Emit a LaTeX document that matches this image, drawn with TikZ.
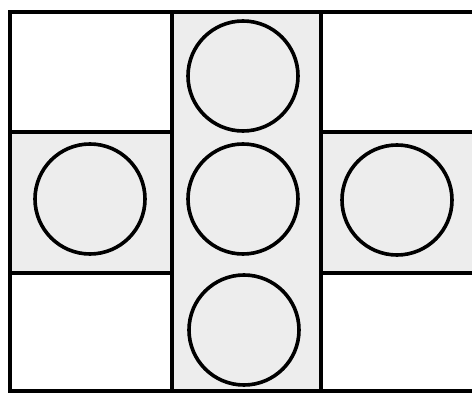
\documentclass[tikz,border=0pt]{standalone}
\usepackage{tikz}
\usetikzlibrary{positioning}

\tikzset{
  slot/.style={circle, draw, line width=3.6pt, minimum size=110pt, inner sep=0pt},
  wall/.style={line width=4.2pt},
}

\begin{document}
\begin{tikzpicture}[x=1pt, y=-1pt]
    \useasboundingbox (0,0) rectangle (472,393);

    % Shaded cross (middle column and middle row)
    \fill[black!7] (172,12) rectangle (321,391);
    \fill[black!7] (10,132) rectangle (472,273);

    % Outer frame
    \draw[wall] (472,12) -- (10,12) -- (10,391) -- (472,391);

    % Column and row lines
    \foreach \x in {172,321} \draw[wall] (\x,12) -- (\x,391);
    \foreach \y in {132,273} {
        \draw[wall] (10,\y) -- (172,\y);
        \draw[wall] (321,\y) -- (472,\y);
    }

    % Circles
    \node[slot] (top)    at (243,76)  {};
    \node[slot] (centre) at (243,199) {};
    \node[slot] (bottom) at (244,330) {};
    \node[slot] (left)   at (90,199)  {};
    \node[slot] (right)  at (397,200) {};
\end{tikzpicture}
\end{document}
